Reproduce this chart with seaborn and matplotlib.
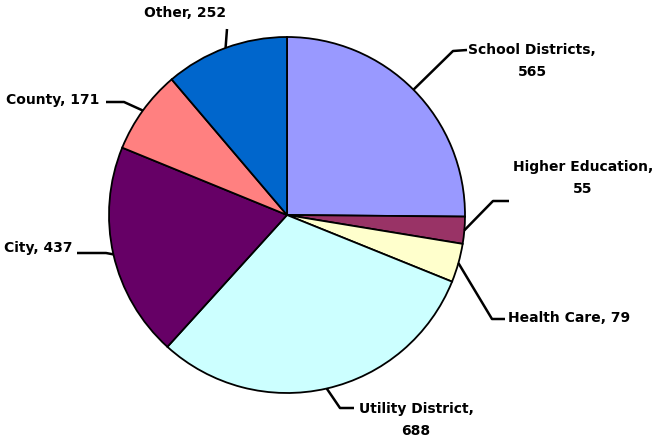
import numpy as np
import matplotlib
matplotlib.use("Agg")
import matplotlib.pyplot as plt
import seaborn as sns

# data
categories = ["School Districts", "Higher Education", "Health Care",
              "Utility District", "City", "County", "Other"]
values = [565, 55, 79, 688, 437, 171, 252]
colors = ["#9999FF", "#993366", "#FFFFCC", "#CCFFFF", "#660066", "#FF8080", "#0066CC"]

sns.set_theme(style="white")
plt.rcParams['font.family'] = ['DejaVu Sans']

fig = plt.figure(figsize=(6.56, 4.42), dpi=100)
ax = fig.add_axes([0, 0, 1, 1])

# pixel-like coordinates, y pointing down
cx, cy, r = 287, 215, 178
wedges, _ = ax.pie(values, colors=sns.color_palette(colors), startangle=-90,
                   counterclock=True, center=(cx, cy), radius=r,
                   wedgeprops=dict(edgecolor="black", linewidth=1.3))
ax.set_xlim(0, 656)
ax.set_ylim(442, 0)
ax.set_aspect("equal")
ax.axis("off")

# label layout: text position, alignment, elbow, line end
layout = {
    "School Districts": dict(txt=(532, 61), ha="center", elbow=(453, 51), end=(467, 50)),
    "Higher Education": dict(txt=(583, 178), ha="center", elbow=(493, 201), end=(509, 201)),
    "Health Care": dict(txt=(508, 318), ha="left", elbow=(492, 319), end=(505, 319)),
    "Utility District": dict(txt=(416, 420), ha="center", elbow=(340, 408), end=(354, 408)),
    "City": dict(txt=(4, 248), ha="left", elbow=(106, 253), end=(77, 253)),
    "County": dict(txt=(6, 100), ha="left", elbow=(124, 102), end=(106, 102)),
    "Other": dict(txt=(185, 13), ha="center", elbow=(227, 29), end=(227, 29)),
}
two_line = {"School Districts", "Higher Education", "Utility District"}

for w, cat, val in zip(wedges, categories, values):
    lay = layout[cat]
    mid = np.deg2rad((w.theta1 + w.theta2) / 2)
    px, py = cx + r * np.cos(mid), cy + r * np.sin(mid)
    ex, ey = lay["elbow"]
    fx, fy = lay["end"]
    ax.plot([px, ex, fx], [py, ey, fy], color="black", lw=1.8, solid_capstyle="butt")
    label = f"{cat},\n{val}" if cat in two_line else f"{cat}, {val}"
    ax.text(lay["txt"][0], lay["txt"][1], label, ha=lay["ha"], va="center",
            multialignment="center", fontsize=10, fontweight="bold",
            color="black", linespacing=1.75)

fig.savefig("out.png", dpi=100, facecolor="white")
